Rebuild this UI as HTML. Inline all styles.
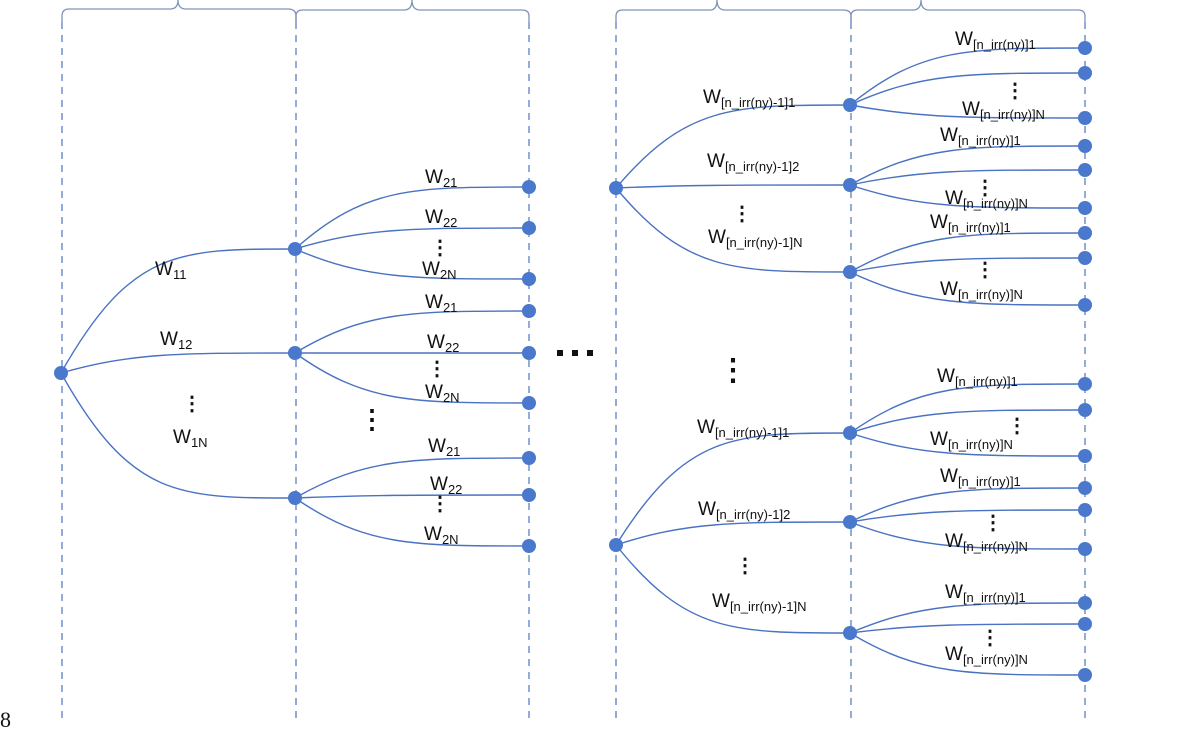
<!DOCTYPE html>
<html><head><meta charset="utf-8"><style>
body{margin:0;background:#fff;}
svg{display:block;font-family:"Liberation Sans",sans-serif;}
.w{font-size:19px;fill:#111}
.s{font-size:13px}
.d{font-size:20px;font-weight:bold;fill:#111}
</style></head><body>
<svg width="1200" height="729" viewBox="0 0 1200 729">
<g stroke="#5b7fc4" stroke-width="1.3" stroke-dasharray="7,6" fill="none">
<line x1="62" y1="22" x2="62" y2="718"/><line x1="296" y1="22" x2="296" y2="718"/><line x1="529" y1="22" x2="529" y2="718"/>
<line x1="616" y1="22" x2="616" y2="718"/><line x1="851" y1="22" x2="851" y2="718"/><line x1="1085" y1="22" x2="1085" y2="718"/>
</g>
<g stroke="#7f93b8" stroke-width="1.3" fill="none">
<path d="M62 22 V16 Q62 9 69 9 H170 Q178 9 178 0 Q178 9 186 9 H288 Q296 9 296 16 V22"/>
<path d="M296 22 V16 Q296 10 303 10 H404 Q412 10 412 0 Q412 10 420 10 H522 Q529 10 529 16 V22"/>
<path d="M616 22 V16 Q616 10 623 10 H710 Q717 10 717 0 Q717 10 725 10 H843 Q851 10 851 16 V22"/>
<path d="M851 22 V16 Q851 10 858 10 H913 Q921 10 921 0 Q921 10 929 10 H1078 Q1085 10 1085 16 V22"/>
</g>
<g stroke="#4a72c2" stroke-width="1.4" fill="none">
<path d="M61 373 C131 249 178 249 295 249"/><path d="M61 373 C131 353 178 353 295 353"/><path d="M61 373 C131 498 178 498 295 498"/>
<path d="M295 249 C365 187 412 187 529 187"/><path d="M295 249 C365 228 412 228 529 228"/><path d="M295 249 C365 279 412 279 529 279"/>
<path d="M295 353 C365 311 412 311 529 311"/><path d="M295 353 C365 353 412 353 529 353"/><path d="M295 353 C365 403 412 403 529 403"/>
<path d="M295 498 C365 458 412 458 529 458"/><path d="M295 498 C365 495 412 495 529 495"/><path d="M295 498 C365 546 412 546 529 546"/>
<path d="M616 188 C686 105 733 105 850 105"/><path d="M616 188 C686 185 733 185 850 185"/><path d="M616 188 C686 272 733 272 850 272"/>
<path d="M616 545 C686 433 733 433 850 433"/><path d="M616 545 C686 522 733 522 850 522"/><path d="M616 545 C686 633 733 633 850 633"/>
<path d="M850 105 C920 48 967 48 1085 48"/><path d="M850 105 C920 73 967 73 1085 73"/><path d="M850 105 C920 118 967 118 1085 118"/>
<path d="M850 185 C920 146 967 146 1085 146"/><path d="M850 185 C920 170 967 170 1085 170"/><path d="M850 185 C920 208 967 208 1085 208"/>
<path d="M850 272 C920 233 967 233 1085 233"/><path d="M850 272 C920 258 967 258 1085 258"/><path d="M850 272 C920 305 967 305 1085 305"/>
<path d="M850 433 C920 384 967 384 1085 384"/><path d="M850 433 C920 410 967 410 1085 410"/><path d="M850 433 C920 456 967 456 1085 456"/>
<path d="M850 522 C920 488 967 488 1085 488"/><path d="M850 522 C920 510 967 510 1085 510"/><path d="M850 522 C920 549 967 549 1085 549"/>
<path d="M850 633 C920 603 967 603 1085 603"/><path d="M850 633 C920 624 967 624 1085 624"/><path d="M850 633 C920 675 967 675 1085 675"/>
</g>
<g fill="#4a78cc">
<circle cx="61" cy="373" r="7"/><circle cx="295" cy="249" r="7"/><circle cx="295" cy="353" r="7"/><circle cx="295" cy="498" r="7"/>
<circle cx="529" cy="187" r="7"/><circle cx="529" cy="228" r="7"/><circle cx="529" cy="279" r="7"/><circle cx="529" cy="311" r="7"/><circle cx="529" cy="353" r="7"/><circle cx="529" cy="403" r="7"/><circle cx="529" cy="458" r="7"/><circle cx="529" cy="495" r="7"/><circle cx="529" cy="546" r="7"/>
<circle cx="616" cy="188" r="7"/><circle cx="616" cy="545" r="7"/>
<circle cx="850" cy="105" r="7"/><circle cx="850" cy="185" r="7"/><circle cx="850" cy="272" r="7"/><circle cx="850" cy="433" r="7"/><circle cx="850" cy="522" r="7"/><circle cx="850" cy="633" r="7"/>
<circle cx="1085" cy="48" r="7"/><circle cx="1085" cy="73" r="7"/><circle cx="1085" cy="118" r="7"/><circle cx="1085" cy="146" r="7"/><circle cx="1085" cy="170" r="7"/><circle cx="1085" cy="208" r="7"/><circle cx="1085" cy="233" r="7"/><circle cx="1085" cy="258" r="7"/><circle cx="1085" cy="305" r="7"/>
<circle cx="1085" cy="384" r="7"/><circle cx="1085" cy="410" r="7"/><circle cx="1085" cy="456" r="7"/><circle cx="1085" cy="488" r="7"/><circle cx="1085" cy="510" r="7"/><circle cx="1085" cy="549" r="7"/><circle cx="1085" cy="603" r="7"/><circle cx="1085" cy="624" r="7"/><circle cx="1085" cy="675" r="7"/>
</g>
<g class="w">
<text x="155" y="275">W<tspan class="s" dy="4">11</tspan></text>
<text x="160" y="345">W<tspan class="s" dy="4">12</tspan></text>
<text x="173" y="443">W<tspan class="s" dy="4">1N</tspan></text>
<text x="425" y="183">W<tspan class="s" dy="4">21</tspan></text>
<text x="425" y="223">W<tspan class="s" dy="4">22</tspan></text>
<text x="422" y="275">W<tspan class="s" dy="4">2N</tspan></text>
<text x="425" y="308">W<tspan class="s" dy="4">21</tspan></text>
<text x="427" y="348">W<tspan class="s" dy="4">22</tspan></text>
<text x="425" y="398">W<tspan class="s" dy="4">2N</tspan></text>
<text x="428" y="452">W<tspan class="s" dy="4">21</tspan></text>
<text x="430" y="490">W<tspan class="s" dy="4">22</tspan></text>
<text x="424" y="540">W<tspan class="s" dy="4">2N</tspan></text>
<text x="703" y="103">W<tspan class="s" dy="4">[n_irr(ny)-1]1</tspan></text>
<text x="707" y="167">W<tspan class="s" dy="4">[n_irr(ny)-1]2</tspan></text>
<text x="708" y="243">W<tspan class="s" dy="4">[n_irr(ny)-1]N</tspan></text>
<text x="697" y="433">W<tspan class="s" dy="4">[n_irr(ny)-1]1</tspan></text>
<text x="698" y="515">W<tspan class="s" dy="4">[n_irr(ny)-1]2</tspan></text>
<text x="712" y="607">W<tspan class="s" dy="4">[n_irr(ny)-1]N</tspan></text>
<text x="955" y="45">W<tspan class="s" dy="4">[n_irr(ny)]1</tspan></text>
<text x="962" y="115">W<tspan class="s" dy="4">[n_irr(ny)]N</tspan></text>
<text x="940" y="141">W<tspan class="s" dy="4">[n_irr(ny)]1</tspan></text>
<text x="945" y="204">W<tspan class="s" dy="4">[n_irr(ny)]N</tspan></text>
<text x="930" y="228">W<tspan class="s" dy="4">[n_irr(ny)]1</tspan></text>
<text x="940" y="295">W<tspan class="s" dy="4">[n_irr(ny)]N</tspan></text>
<text x="937" y="382">W<tspan class="s" dy="4">[n_irr(ny)]1</tspan></text>
<text x="930" y="445">W<tspan class="s" dy="4">[n_irr(ny)]N</tspan></text>
<text x="940" y="482">W<tspan class="s" dy="4">[n_irr(ny)]1</tspan></text>
<text x="945" y="547">W<tspan class="s" dy="4">[n_irr(ny)]N</tspan></text>
<text x="945" y="598">W<tspan class="s" dy="4">[n_irr(ny)]1</tspan></text>
<text x="945" y="660">W<tspan class="s" dy="4">[n_irr(ny)]N</tspan></text>
</g>
<g class="d" text-anchor="middle">
<text x="192" y="410">⋮</text><text x="440" y="254">⋮</text><text x="437" y="375">⋮</text><text x="440" y="510">⋮</text>
<text x="372" y="428" style="font-size:26px">⋮</text>
<text x="742" y="220">⋮</text><text x="745" y="572">⋮</text>
<text x="733" y="380" style="font-size:30px">⋮</text>
<text x="1015" y="97">⋮</text><text x="985" y="194">⋮</text><text x="985" y="276">⋮</text><text x="1017" y="432">⋮</text><text x="993" y="529">⋮</text><text x="990" y="644">⋮</text>
</g>
<g fill="#111"><rect x="557" y="350" width="6" height="6"/><rect x="572" y="350" width="6" height="6"/><rect x="587" y="350" width="6" height="6"/></g>
<text x="0" y="727" style="font-family:'Liberation Serif',serif;font-size:22px" fill="#111">8</text>
</svg>
</body></html>
